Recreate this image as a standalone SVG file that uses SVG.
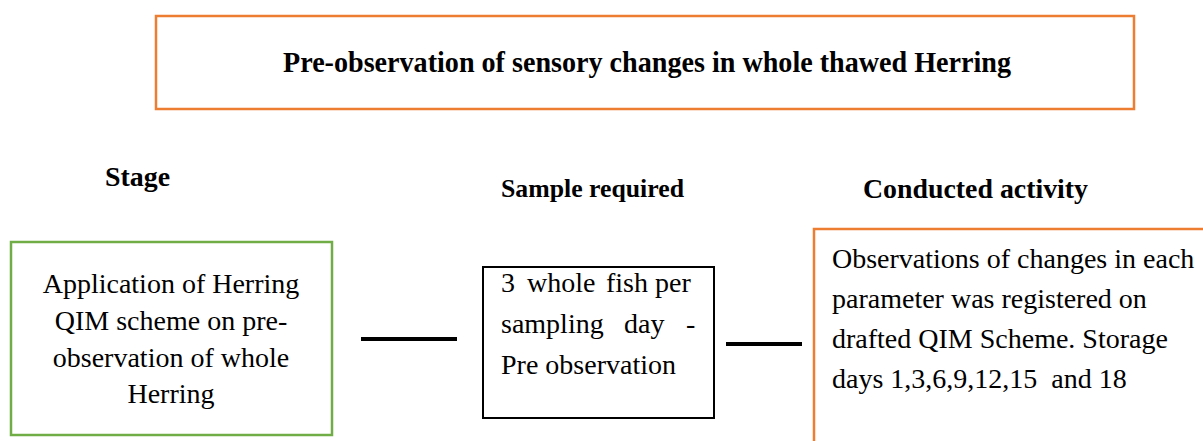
<svg xmlns="http://www.w3.org/2000/svg" width="1203" height="441" viewBox="0 0 1203 441">
<style>
.h{font-family:"Liberation Serif","Times New Roman",serif;font-weight:bold;fill:#000}
.t{font-family:"Liberation Serif","Times New Roman",serif;fill:#000}
.org{fill:#fff;stroke:#ed7d31;stroke-width:2.5}
.grn{fill:#fff;stroke:#70ad47;stroke-width:2.5}
.blk{fill:#fff;stroke:#000;stroke-width:2}
.con{stroke:#000;stroke-width:4;fill:none}
</style>
<rect width="1203" height="441" fill="#fff"/>
<g id="title">
<rect class="org" x="156" y="16" width="978" height="93"/>
<text class="h" x="283" y="72" font-size="29" textLength="728" lengthAdjust="spacingAndGlyphs">Pre-observation of sensory changes in whole thawed Herring</text>
</g>
<g id="headings">
<text class="h" x="105" y="186" font-size="27" textLength="65" lengthAdjust="spacingAndGlyphs">Stage</text>
<text class="h" x="501" y="197" font-size="26" textLength="183" lengthAdjust="spacingAndGlyphs">Sample required</text>
<text class="h" x="863" y="198" font-size="28" textLength="225" lengthAdjust="spacingAndGlyphs">Conducted activity</text>
</g>
<g id="stage">
<rect class="grn" x="11" y="242" width="321" height="193"/>
<g class="t" font-size="28" text-anchor="middle">
<text x="171" y="293">Application of Herring</text>
<text x="171" y="330">QIM scheme on pre-</text>
<text x="171" y="367">observation of whole</text>
<text x="171" y="403">Herring</text>
</g>
</g>
<g id="sample">
<rect class="blk" x="483" y="267" width="231" height="151"/>
<g class="t" font-size="28">
<text y="292"><tspan x="501">3</tspan> <tspan x="527">whole</tspan> <tspan x="606">fish</tspan> <tspan x="655">per</tspan></text>
<text y="333"><tspan x="501">sampling</tspan> <tspan x="624">day</tspan> <tspan x="686">-</tspan></text>
<text x="501" y="374">Pre observation</text>
</g>
</g>
<g id="activity">
<rect class="org" x="814" y="229" width="400" height="230"/>
<g class="t" font-size="28">
<text x="832" y="268">Observations of changes in each</text>
<text x="832" y="308">parameter was registered on</text>
<text x="832" y="348">drafted QIM Scheme. Storage</text>
<text x="832" y="388" xml:space="preserve">days 1,3,6,9,12,15  and 18</text>
</g>
</g>
<g id="connectors">
<line class="con" x1="361" y1="339" x2="457" y2="339"/>
<line class="con" x1="726" y1="344" x2="802" y2="344"/>
</g>
</svg>
